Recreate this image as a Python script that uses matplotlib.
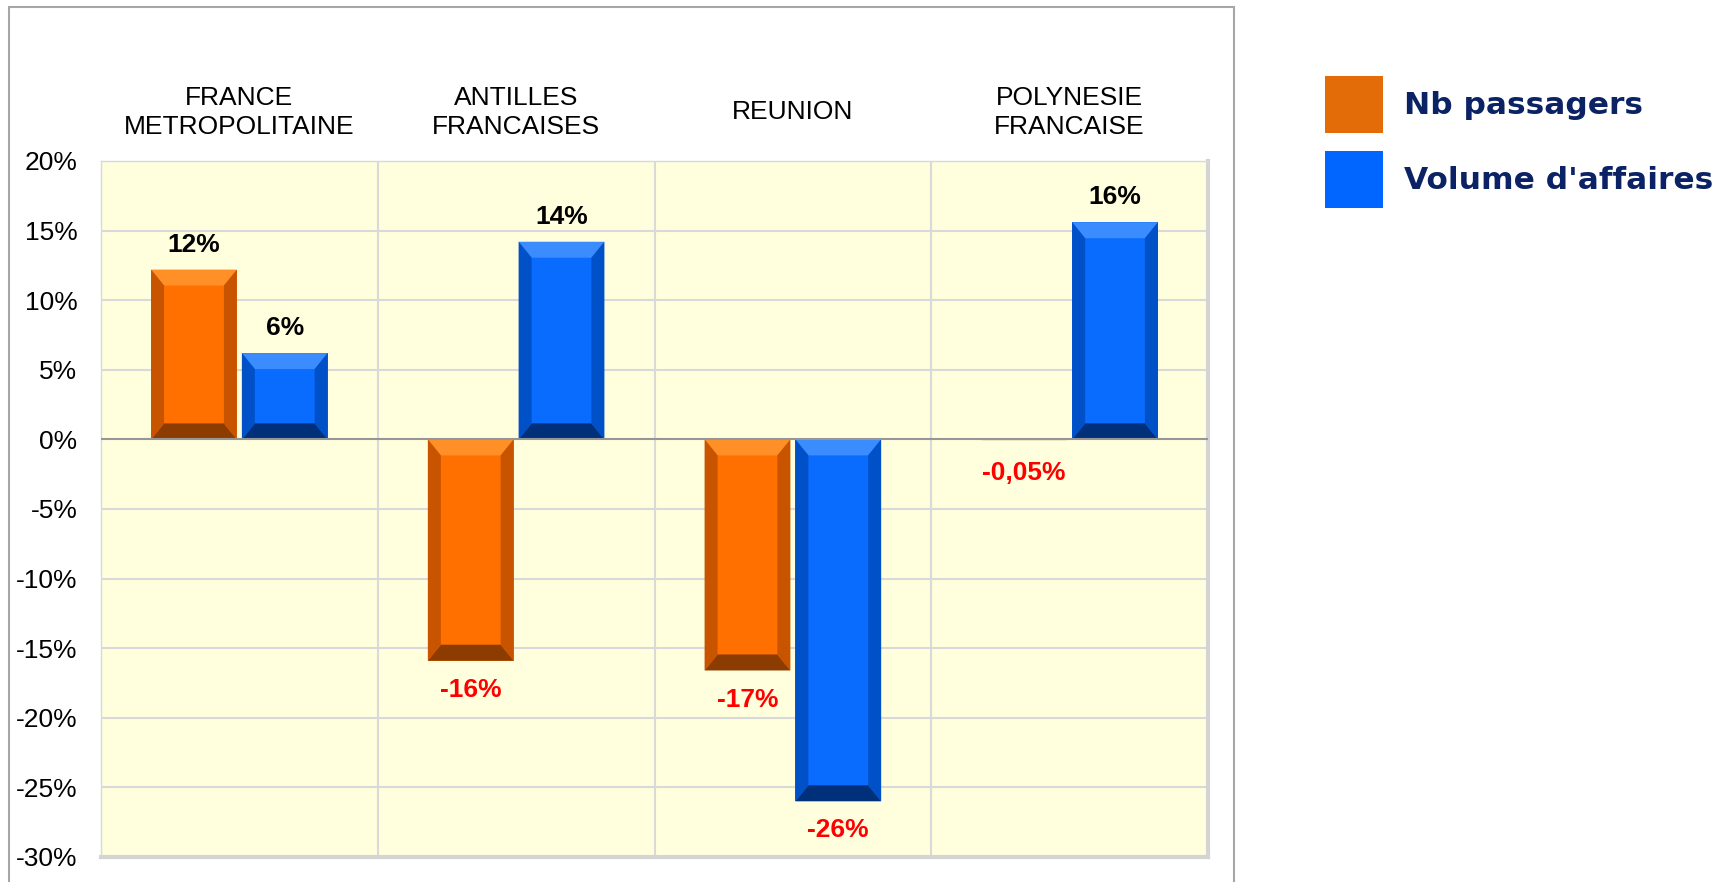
import matplotlib
matplotlib.use("Agg")
import matplotlib.pyplot as plt
from matplotlib.patches import Polygon, Rectangle, Patch

plt.rcParams["font.family"] = ["Liberation Sans", "DejaVu Sans"]

categories = ["FRANCE\nMETROPOLITAINE", "ANTILLES\nFRANCAISES", "REUNION", "POLYNESIE\nFRANCAISE"]
series_names = ["Nb passagers", "Volume d'affaires"]
passagers = [12.2, -15.9, -16.6, -0.05]
volume = [6.2, 14.2, -26.0, 15.6]
passagers_labels = ["12%", "-16%", "-17%", "-0,05%"]
volume_labels = ["6%", "14%", "-26%", "16%"]
y_ticks = [20, 15, 10, 5, 0, -5, -10, -15, -20, -25, -30]

# front, top, sides, bottom
ORANGE = ["#FF7000", "#FF9028", "#C85400", "#8C3C00"]
BLUE = ["#0A6BFF", "#3A8CFF", "#0050C8", "#00307A"]
LEGEND_COLORS = ["#E36C09", "#0066FF"]

W, H = 1718, 882
fig = plt.figure(figsize=(W / 100, H / 100), dpi=100)
ax = fig.add_axes([101 / W, 1 - 857 / H, (1208 - 101) / W, (857 - 161) / H])
ax.set_facecolor("#FFFFDE")

ax.set_xlim(-0.5, 3.5)
ax.set_ylim(-30, 20)

bar_w = 0.31
offset = 0.164
# bevel size in pixels -> data units
px_x = (1208 - 101) / 4.0
px_y = (857 - 161) / 50.0
bev_x = 13 / px_x
bev_y = 16 / px_y


def bevel_bar(xc, v, colors):
    x0, x1 = xc - bar_w / 2, xc + bar_w / 2
    y0, y1 = min(0, v), max(0, v)
    by = min(bev_y, (y1 - y0) / 2)
    bx = bev_x
    ax.bar(xc, v, width=bar_w, color=colors[0], edgecolor="none", zorder=3)
    faces = [
        ([(x0, y1), (x1, y1), (x1 - bx, y1 - by), (x0 + bx, y1 - by)], colors[1]),
        ([(x0, y0), (x1, y0), (x1 - bx, y0 + by), (x0 + bx, y0 + by)], colors[3]),
        ([(x0, y0), (x0, y1), (x0 + bx, y1 - by), (x0 + bx, y0 + by)], colors[2]),
        ([(x1, y0), (x1, y1), (x1 - bx, y1 - by), (x1 - bx, y0 + by)], colors[2]),
    ]
    for pts, c in faces:
        ax.add_patch(Polygon(pts, closed=True, facecolor=c, edgecolor="none", zorder=4))


def value_label(xc, v, txt):
    color = "black" if v > 0 else "#FF0000"
    dy = 18 if v > 0 else -21
    if abs(v) < 1:
        dy = -24
    ax.annotate(txt, (xc, v), xytext=(0, dy), textcoords="offset points",
                ha="center", va="center", fontsize=19, fontweight="bold",
                color=color, zorder=6)


for i in range(len(categories)):
    bevel_bar(i - offset, passagers[i], ORANGE)
    bevel_bar(i + offset, volume[i], BLUE)
    value_label(i - offset, passagers[i], passagers_labels[i])
    value_label(i + offset, volume[i], volume_labels[i])
    ax.annotate(categories[i], (i, 1.0), xycoords=("data", "axes fraction"),
                xytext=(0, 35), textcoords="offset points", ha="center",
                va="center", fontsize=19, linespacing=1.3)

# grid
for t in y_ticks:
    if t != 0:
        ax.axhline(t, color="#D9D9D9", lw=1.5, zorder=1)
for xb in [0.5, 1.5, 2.5]:
    ax.axvline(xb, color="#D9D9D9", lw=1.5, zorder=1)
ax.axhline(0, color="#969696", lw=1.5, zorder=5)

ax.set_yticks(y_ticks)
ax.set_yticklabels([f"{t}%" for t in y_ticks], fontsize=19)
ax.tick_params(axis="y", length=0, pad=17)
ax.set_xticks([])

for s in ["top", "left"]:
    ax.spines[s].set_color("#D9D9D9")
    ax.spines[s].set_linewidth(1)
for s in ["bottom", "right"]:
    ax.spines[s].set_color("#D4D4D4")
    ax.spines[s].set_linewidth(3)

# outer chart frame
fig.patches.append(Rectangle((9 / W, -0.1), (1234 - 9) / W, 1.1 - 7 / H,
                             transform=fig.transFigure, fill=False,
                             edgecolor="#A6A6A6", lw=1.5))

handles = [Patch(facecolor=c, edgecolor="none") for c in LEGEND_COLORS]
leg = fig.legend(handles, series_names, loc="upper left",
                 bbox_to_anchor=(1325 / W, 1 - 76 / H), frameon=False,
                 borderpad=0, borderaxespad=0, handlelength=1.84,
                 handleheight=2.45, handletextpad=0.7, labelspacing=0.55,
                 prop={"family": "DejaVu Sans", "weight": "bold", "size": 22.5})
for t in leg.get_texts():
    t.set_color("#0B2365")

fig.savefig("out.png", dpi=100)
